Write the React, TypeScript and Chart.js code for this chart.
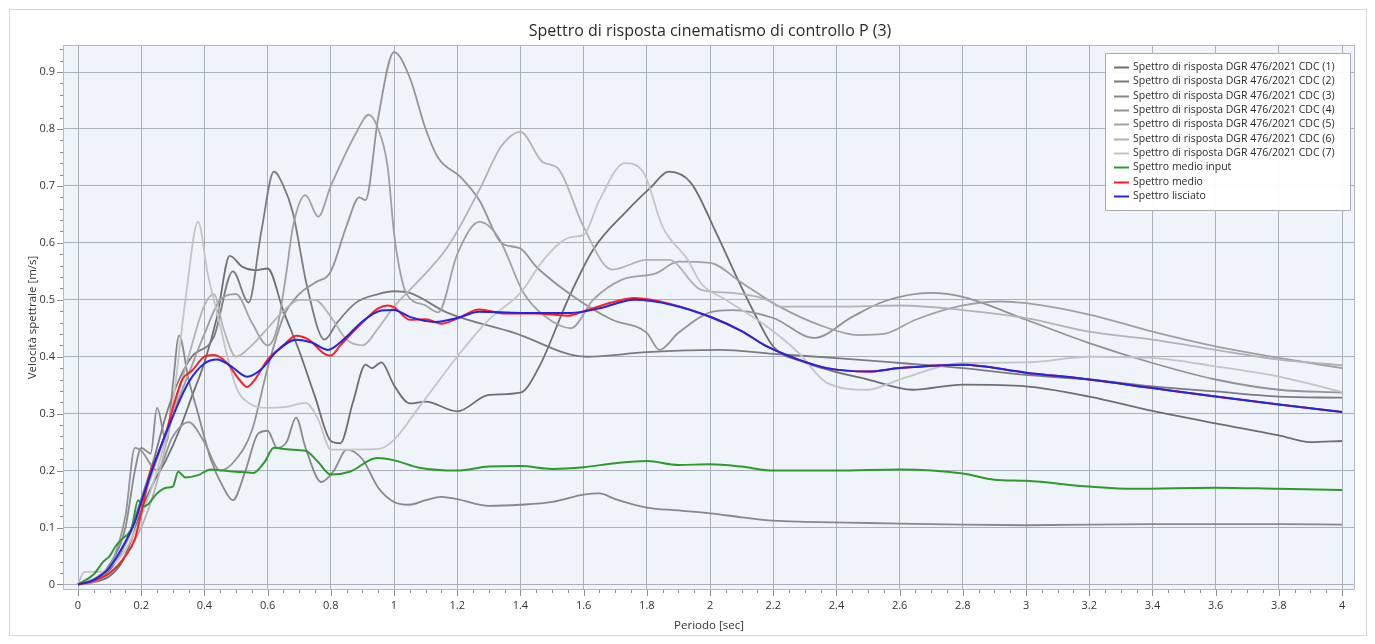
import React, { useEffect, useRef } from "react";
import { Chart, registerables } from "chart.js";
Chart.register(...registerables);

// ---- axis ticks ----
const xTicks = [0, 0.2, 0.4, 0.6, 0.8, 1, 1.2, 1.4, 1.6, 1.8, 2, 2.2, 2.4, 2.6, 2.8, 3, 3.2, 3.4, 3.6, 3.8, 4];
const yTicks = [0, 0.1, 0.2, 0.3, 0.4, 0.5, 0.6, 0.7, 0.8, 0.9];

const chartTitle = "Spettro di risposta cinematismo di controllo P (3)";
const xTitle = "Periodo [sec]";
const yTitle = "Velocità spettrale [m/s]";

// ---- series (period [s] / value [m/s]) ----
const T1 = [0, 0.05, 0.1, 0.14, 0.17, 0.2, 0.24, 0.28, 0.32, 0.36, 0.4, 0.44, 0.48, 0.52, 0.56, 0.6, 0.65, 0.7, 0.75, 0.8, 0.83, 0.87, 0.91, 0.93, 0.96, 1.0, 1.05, 1.1, 1.2, 1.3, 1.4, 1.46, 1.55, 1.63, 1.74, 1.81, 1.87, 1.94, 2.02, 2.08, 2.14, 2.2, 2.3, 2.4, 2.5, 2.64, 2.8, 3.0, 3.2, 3.4, 3.6, 3.8, 3.9, 4.0];
const V1 = [0, 0.004, 0.015, 0.04, 0.08, 0.13, 0.18, 0.22, 0.27, 0.33, 0.39, 0.47, 0.577, 0.558, 0.552, 0.555, 0.48, 0.41, 0.33, 0.252, 0.248, 0.32, 0.386, 0.38, 0.39, 0.35, 0.318, 0.321, 0.304, 0.333, 0.337, 0.383, 0.5, 0.588, 0.658, 0.696, 0.725, 0.705, 0.617, 0.545, 0.477, 0.418, 0.39, 0.373, 0.36, 0.342, 0.351, 0.348, 0.33, 0.305, 0.283, 0.262, 0.25, 0.252];

const T2 = [0, 0.05, 0.1, 0.14, 0.17, 0.2, 0.24, 0.28, 0.32, 0.36, 0.43, 0.49, 0.54, 0.58, 0.62, 0.65, 0.68, 0.725, 0.78, 0.82, 0.88, 0.95, 1.0, 1.05, 1.17, 1.38, 1.61, 1.8, 2.03, 2.2, 2.39, 2.6, 2.8, 3.0, 3.2, 3.4, 3.6, 3.8, 4.0];
const V2 = [0, 0.006, 0.025, 0.06, 0.1, 0.15, 0.22, 0.3, 0.36, 0.4, 0.435, 0.55, 0.495, 0.62, 0.725, 0.7, 0.653, 0.523, 0.43, 0.46, 0.495, 0.51, 0.515, 0.512, 0.477, 0.442, 0.4, 0.408, 0.412, 0.405, 0.398, 0.389, 0.38, 0.368, 0.36, 0.348, 0.339, 0.33, 0.328];

const T3 = [0, 0.05, 0.1, 0.15, 0.18, 0.2, 0.23, 0.25, 0.28, 0.3, 0.32, 0.35, 0.38, 0.42, 0.46, 0.49, 0.53, 0.57, 0.6, 0.63, 0.66, 0.69, 0.72, 0.77, 0.81, 0.85, 0.9, 0.95, 1.0, 1.05, 1.1, 1.15, 1.2, 1.3, 1.4, 1.5, 1.6, 1.65, 1.7, 1.8, 1.9, 2.0, 2.1, 2.2, 2.3, 2.5, 2.8, 3.0, 3.4, 3.8, 4.0];
const V3 = [0, 0.008, 0.035, 0.1, 0.2, 0.24, 0.23, 0.31, 0.25, 0.35, 0.437, 0.36, 0.3, 0.22, 0.17, 0.148, 0.2, 0.265, 0.27, 0.24, 0.25, 0.293, 0.24, 0.18, 0.2, 0.237, 0.22, 0.17, 0.145, 0.14, 0.148, 0.154, 0.15, 0.138, 0.14, 0.145, 0.158, 0.16, 0.15, 0.135, 0.13, 0.125, 0.118, 0.112, 0.11, 0.108, 0.105, 0.104, 0.106, 0.106, 0.105];

const T4 = [0, 0.05, 0.1, 0.15, 0.18, 0.2, 0.25, 0.3, 0.35, 0.4, 0.45, 0.5, 0.55, 0.6, 0.65, 0.7, 0.75, 0.8, 0.85, 0.89, 0.91, 0.95, 1.0, 1.05, 1.1, 1.14, 1.21, 1.27, 1.34, 1.4, 1.45, 1.57, 1.69, 1.8, 1.84, 1.9, 2.0, 2.07, 2.2, 2.33, 2.45, 2.55, 2.7, 2.8, 3.0, 3.2, 3.4, 3.6, 3.8, 4.0];
const V4 = [0, 0.005, 0.03, 0.12, 0.24, 0.235, 0.2, 0.26, 0.285, 0.25, 0.2, 0.22, 0.27, 0.38, 0.47, 0.51, 0.53, 0.55, 0.63, 0.68, 0.675, 0.82, 0.935, 0.89, 0.8, 0.749, 0.716, 0.675, 0.6, 0.59, 0.558, 0.505, 0.465, 0.442, 0.412, 0.442, 0.478, 0.482, 0.468, 0.433, 0.47, 0.497, 0.512, 0.505, 0.465, 0.424, 0.389, 0.36, 0.342, 0.337];

const T5 = [0, 0.05, 0.1, 0.15, 0.2, 0.25, 0.3, 0.35, 0.4, 0.45, 0.5, 0.55, 0.6, 0.63, 0.66, 0.68, 0.72, 0.76, 0.8, 0.88, 0.92, 0.95, 0.98, 1.0, 1.02, 1.04, 1.1, 1.14, 1.2, 1.27, 1.33, 1.41, 1.48, 1.56, 1.63, 1.72, 1.83, 1.9, 2.0, 2.1, 2.22, 2.35, 2.47, 2.55, 2.65, 2.8, 2.92, 3.0, 3.2, 3.4, 3.6, 3.8, 4.0];
const V5 = [0, 0.01, 0.03, 0.07, 0.14, 0.22, 0.3, 0.37, 0.44, 0.5, 0.51, 0.46, 0.42, 0.45, 0.55, 0.628, 0.684, 0.646, 0.7, 0.793, 0.825, 0.8, 0.733, 0.617, 0.547, 0.51, 0.49, 0.478, 0.58, 0.637, 0.61, 0.512, 0.47, 0.45, 0.5, 0.535, 0.547, 0.567, 0.565, 0.53, 0.488, 0.455, 0.438, 0.44, 0.465, 0.49, 0.497, 0.494, 0.474, 0.444, 0.418, 0.398, 0.38];

const T6 = [0, 0.05, 0.1, 0.15, 0.2, 0.25, 0.3, 0.35, 0.4, 0.43, 0.46, 0.5, 0.55, 0.6, 0.65, 0.7, 0.75, 0.8, 0.85, 0.9, 0.95, 1.0, 1.06, 1.17, 1.27, 1.34, 1.4, 1.47, 1.52, 1.6, 1.69, 1.8, 1.87, 1.97, 2.07, 2.18, 2.22, 2.4, 2.6, 2.8, 3.0, 3.2, 3.4, 3.6, 3.8, 4.0];
const V6 = [0, 0.005, 0.02, 0.05, 0.1, 0.18, 0.3, 0.4, 0.49, 0.51, 0.45, 0.4, 0.42, 0.45, 0.48, 0.5, 0.5, 0.47, 0.43, 0.42, 0.45, 0.488, 0.523, 0.593, 0.693, 0.77, 0.795, 0.742, 0.73, 0.628, 0.553, 0.57, 0.57, 0.518, 0.512, 0.5, 0.488, 0.488, 0.49, 0.482, 0.468, 0.444, 0.43, 0.412, 0.395, 0.385];

const T7 = [0, 0.02, 0.07, 0.1, 0.15, 0.2, 0.25, 0.3, 0.34, 0.38, 0.41, 0.44, 0.5, 0.54, 0.6, 0.66, 0.72, 0.76, 0.8, 0.87, 0.95, 1.0, 1.08, 1.2, 1.3, 1.4, 1.48, 1.56, 1.6, 1.65, 1.73, 1.79, 1.85, 1.93, 1.97, 2.05, 2.18, 2.28, 2.37, 2.5, 2.6, 2.8, 3.0, 3.2, 3.4, 3.6, 3.8, 4.0];
const V7 = [0, 0.022, 0.022, 0.03, 0.06, 0.12, 0.2, 0.32, 0.5, 0.637, 0.547, 0.477, 0.347, 0.319, 0.31, 0.312, 0.319, 0.29, 0.237, 0.237, 0.238, 0.254, 0.312, 0.4, 0.465, 0.512, 0.575, 0.61, 0.614, 0.675, 0.74, 0.723, 0.628, 0.57, 0.53, 0.5, 0.453, 0.407, 0.354, 0.342, 0.36, 0.389, 0.39, 0.4, 0.398, 0.383, 0.365, 0.338];

const TG = [0, 0.05, 0.08, 0.1, 0.12, 0.14, 0.17, 0.19, 0.206, 0.22, 0.25, 0.28, 0.3, 0.317, 0.34, 0.38, 0.42, 0.46, 0.5, 0.555, 0.59, 0.62, 0.67, 0.72, 0.76, 0.8, 0.86, 0.946, 1.0, 1.08, 1.2, 1.3, 1.4, 1.5, 1.6, 1.7, 1.8, 1.9, 2.0, 2.1, 2.2, 2.4, 2.6, 2.8, 2.9, 3.0, 3.2, 3.34, 3.6, 3.8, 4.0];
const VG = [0, 0.018, 0.04, 0.05, 0.068, 0.08, 0.1, 0.148, 0.137, 0.14, 0.16, 0.17, 0.172, 0.198, 0.188, 0.192, 0.202, 0.2, 0.198, 0.196, 0.215, 0.24, 0.237, 0.235, 0.215, 0.193, 0.198, 0.222, 0.218, 0.205, 0.2, 0.207, 0.208, 0.203, 0.206, 0.213, 0.217, 0.21, 0.211, 0.207, 0.2, 0.2, 0.202, 0.195, 0.184, 0.182, 0.172, 0.168, 0.17, 0.168, 0.166];

const TR = [0, 0.05, 0.1, 0.15, 0.18, 0.2, 0.23, 0.25, 0.28, 0.3, 0.33, 0.36, 0.4, 0.43, 0.47, 0.51, 0.535, 0.56, 0.6, 0.65, 0.69, 0.73, 0.78, 0.8, 0.83, 0.9, 0.95, 0.98, 1.0, 1.05, 1.1, 1.15, 1.2, 1.27, 1.35, 1.45, 1.55, 1.6, 1.7, 1.76, 1.88, 2.01, 2.1, 2.18, 2.28, 2.37, 2.5, 2.6, 2.8, 3.0, 3.2, 3.4, 3.6, 3.8, 4.0];
const VR = [0, 0.006, 0.02, 0.05, 0.08, 0.125, 0.2, 0.225, 0.27, 0.31, 0.36, 0.375, 0.4, 0.403, 0.39, 0.36, 0.347, 0.36, 0.395, 0.42, 0.437, 0.43, 0.405, 0.402, 0.42, 0.46, 0.485, 0.49, 0.487, 0.465, 0.466, 0.458, 0.467, 0.483, 0.476, 0.476, 0.472, 0.48, 0.497, 0.503, 0.492, 0.468, 0.445, 0.418, 0.395, 0.38, 0.374, 0.38, 0.386, 0.372, 0.36, 0.345, 0.33, 0.316, 0.303];

const TB = [0, 0.05, 0.1, 0.15, 0.18, 0.2, 0.25, 0.3, 0.35, 0.4, 0.44, 0.48, 0.535, 0.58, 0.63, 0.69, 0.74, 0.79, 0.84, 0.9, 0.96, 1.0, 1.05, 1.13, 1.2, 1.27, 1.4, 1.56, 1.65, 1.76, 1.88, 2.01, 2.1, 2.18, 2.28, 2.37, 2.5, 2.6, 2.8, 3.0, 3.2, 3.4, 3.6, 3.8, 4.0];
const VB = [0, 0.008, 0.03, 0.075, 0.11, 0.145, 0.225, 0.295, 0.355, 0.388, 0.395, 0.385, 0.365, 0.378, 0.41, 0.43, 0.425, 0.412, 0.43, 0.462, 0.481, 0.482, 0.47, 0.461, 0.468, 0.479, 0.477, 0.477, 0.485, 0.5, 0.491, 0.468, 0.445, 0.418, 0.395, 0.38, 0.374, 0.38, 0.386, 0.372, 0.36, 0.345, 0.33, 0.316, 0.303];

const seriesNames = [
  "Spettro di risposta DGR 476/2021 CDC (1)",
  "Spettro di risposta DGR 476/2021 CDC (2)",
  "Spettro di risposta DGR 476/2021 CDC (3)",
  "Spettro di risposta DGR 476/2021 CDC (4)",
  "Spettro di risposta DGR 476/2021 CDC (5)",
  "Spettro di risposta DGR 476/2021 CDC (6)",
  "Spettro di risposta DGR 476/2021 CDC (7)",
  "Spettro medio input",
  "Spettro medio",
  "Spettro lisciato",
];
const seriesColors = ["#6e6e6e", "#7b7b7b", "#888888", "#939393", "#a0a0a0", "#b3b3b3", "#c4c4c4", "#2e9a2e", "#ff1f1f", "#2424e8"];
const seriesX = [T1, T2, T3, T4, T5, T6, T7, TG, TR, TB];
const seriesY = [V1, V2, V3, V4, V5, V6, V7, VG, VR, VB];

const FONT = '"Open Sans", "Noto Sans", sans-serif';
const X_MIN = -0.0475, X_MAX = 4.041;
const Y_MIN = -0.0097, Y_MAX = 0.9475;

const fmt = (v: number) => String(Number(v.toFixed(2)));

const decor = {
  id: "decor",
  beforeDraw(chart: any) {
    const { ctx, chartArea: a } = chart;
    ctx.save();
    ctx.fillStyle = "#ffffff";
    ctx.fillRect(0, 0, chart.width, chart.height);
    ctx.fillStyle = "#eff4fb";
    ctx.fillRect(a.left, a.top, a.right - a.left, a.bottom - a.top);
    ctx.restore();
  },
  afterDraw(chart: any) {
    const { ctx, chartArea: a } = chart;
    const xs = chart.scales.x, ys = chart.scales.y;
    ctx.save();
    // outer frame
    ctx.strokeStyle = "#d6d6d6";
    ctx.lineWidth = 1;
    ctx.strokeRect(9.5, 9.5, 1357, 626);
    // plot frame
    ctx.strokeStyle = "#b4b8c0";
    ctx.strokeRect(Math.round(a.left) + 0.5, Math.round(a.top) + 0.5, Math.round(a.right - a.left) - 1, Math.round(a.bottom - a.top) - 1);
    // minor/major tick marks
    ctx.strokeStyle = "#8a8e96";
    ctx.beginPath();
    for (let i = 0; i <= 80; i++) {
      const px = Math.round(xs.getPixelForValue(i * 0.05)) + 0.5;
      const len = i % 4 === 0 ? 6 : 3;
      ctx.moveTo(px, a.bottom);
      ctx.lineTo(px, a.bottom + len);
    }
    for (let i = 0; i <= 47; i++) {
      const py = Math.round(ys.getPixelForValue(i * 0.02)) + 0.5;
      const len = i % 5 === 0 ? 6 : 3;
      ctx.moveTo(a.left, py);
      ctx.lineTo(a.left - len, py);
    }
    ctx.stroke();
    // title
    ctx.fillStyle = "#2a2a2a";
    ctx.font = `16px ${FONT}`;
    ctx.textAlign = "center";
    ctx.textBaseline = "middle";
    ctx.fillText(chartTitle, 710, 31);
    // legend
    const lx = 1105, ly = 53, lw = 245, lh = 157;
    ctx.fillStyle = "rgba(255,255,255,0.95)";
    ctx.fillRect(lx, ly, lw, lh);
    ctx.strokeStyle = "#a9a9a9";
    ctx.strokeRect(lx + 0.5, ly + 0.5, lw, lh);
    ctx.font = `10.5px ${FONT}`;
    ctx.textAlign = "left";
    ctx.textBaseline = "middle";
    seriesNames.forEach((name, i) => {
      const y = 67 + i * 14.35;
      ctx.strokeStyle = seriesColors[i];
      ctx.lineWidth = 2;
      ctx.beginPath();
      ctx.moveTo(1114, Math.round(y) + 0.5);
      ctx.lineTo(1129, Math.round(y) + 0.5);
      ctx.stroke();
      ctx.fillStyle = "#2a2a2a";
      ctx.fillText(name, 1133, y);
    });
    ctx.restore();
  },
};

export default function App() {
  const ref = useRef<HTMLCanvasElement>(null);
  useEffect(() => {
    const datasets = seriesNames.map((name, i) => ({
      label: name,
      data: seriesX[i].map((x, j) => ({ x, y: seriesY[i][j] })),
      borderColor: seriesColors[i],
      backgroundColor: seriesColors[i],
      borderWidth: i >= 7 ? 2 : 1.8,
      pointRadius: 0,
      fill: false,
      cubicInterpolationMode: "monotone" as const,
      order: 10 - i,
    }));
    const chart = new Chart(ref.current as HTMLCanvasElement, {
      type: "line",
      data: { datasets },
      plugins: [decor],
      options: {
        animation: false,
        responsive: false,
        devicePixelRatio: 1,
        layout: { padding: { top: 45, right: 20, left: 0, bottom: 0 } },
        plugins: { legend: { display: false }, title: { display: false }, tooltip: { enabled: false } },
        scales: {
          x: {
            type: "linear",
            min: X_MIN,
            max: X_MAX,
            afterBuildTicks: (s: any) => { s.ticks = xTicks.map((v) => ({ value: v })); },
            afterFit: (s: any) => { s.height = 54; },
            grid: { color: "#aab0b9", lineWidth: 1, drawTicks: false },
            border: { display: false },
            ticks: { padding: 9, color: "#333", font: { family: FONT, size: 11 }, maxRotation: 0, autoSkip: false, callback: (v: any) => fmt(Number(v)) },
            title: { display: true, text: xTitle, color: "#333", font: { family: FONT, size: 11.5 }, padding: { top: 0, bottom: 11 } },
          },
          y: {
            type: "linear",
            min: Y_MIN,
            max: Y_MAX,
            afterBuildTicks: (s: any) => { s.ticks = yTicks.map((v) => ({ value: v })); },
            afterFit: (s: any) => { s.width = 63; },
            grid: { color: "#aab0b9", lineWidth: 1, drawTicks: false },
            border: { display: false },
            ticks: { padding: 8, color: "#333", font: { family: FONT, size: 11 }, autoSkip: false, callback: (v: any) => fmt(Number(v)) },
            title: { display: true, text: yTitle, color: "#333", font: { family: FONT, size: 11.5 }, padding: { top: 26, bottom: 0 } },
          },
        },
      },
    } as any);
    return () => chart.destroy();
  }, []);
  return (
    <div style={{ position: "fixed", left: 0, top: 0, width: 1375, height: 644, background: "#fff" }}>
      <canvas ref={ref} width={1375} height={644} style={{ display: "block", width: 1375, height: 644 }} />
    </div>
  );
}
